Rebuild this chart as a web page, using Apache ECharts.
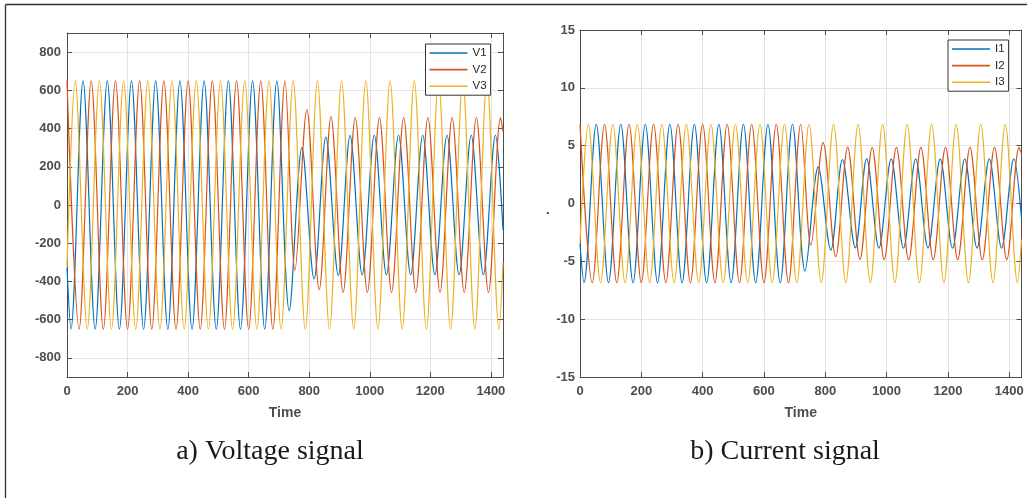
<!DOCTYPE html>
<html>
<head>
<meta charset="utf-8">
<script src="https://cdn.jsdelivr.net/npm/echarts@6/dist/echarts.min.js"></script>
<style>
  html, body { margin: 0; padding: 0; background: #ffffff; }
  #main { width: 1027px; height: 498px; }
</style>
</head>
<body>
<div id="main"></div>
<script>
// Three-phase voltage and current records: [time, value] at each crest and trough.
const V1 = [[0,-330],[13,-650],[53,650],[93,-650],[133,650],[173,-650],[213,650],[253,-650],[293,650],[333,-650],[373,650],[413,-650],[453,650],[493,-650],[533,650],[573,-650],[613,650],[653,-650],[693,650],[734,-553],[776,300],[816,-387],[855,355],[896,-368],[935,363],[975,-365],[1015,365],[1055,-365],[1095,365],[1135,-365],[1175,365],[1215,-365],[1255,365],[1295,-365],[1335,365],[1375,-365],[1415,365],[1440,-130]];
const V2 = [[0,650],[40,-650],[80,650],[120,-650],[160,650],[200,-650],[240,650],[280,-650],[320,650],[360,-650],[400,650],[440,-650],[480,650],[520,-650],[560,650],[600,-650],[640,650],[680,-650],[720,650],[753,-341],[792,499],[833,-443],[872,462],[912,-457],[952,457],[992,-457],[1032,457],[1072,-457],[1112,457],[1152,-457],[1192,457],[1232,-457],[1272,457],[1312,-457],[1352,457],[1392,-457],[1432,457],[1440,385]];
const V3 = [[0,-325],[27,650],[67,-650],[107,650],[147,-650],[187,650],[227,-650],[267,650],[307,-650],[347,650],[387,-650],[427,650],[467,-650],[507,650],[547,-650],[587,650],[627,-650],[667,650],[707,-650],[747,650],[787,-650],[827,650],[867,-650],[907,650],[947,-650],[987,650],[1027,-650],[1067,650],[1107,-650],[1147,650],[1187,-650],[1227,650],[1267,-650],[1307,650],[1347,-650],[1387,650],[1427,-650],[1440,-300]];

const I1 = [[0,-3.5],[13,-6.85],[53,6.85],[93,-6.85],[133,6.85],[173,-6.85],[213,6.85],[253,-6.85],[293,6.85],[333,-6.85],[373,6.85],[413,-6.85],[453,6.85],[493,-6.85],[533,6.85],[573,-6.85],[613,6.85],[653,-6.85],[693,6.85],[734,-5.84],[777,3.16],[818,-4.03],[856,3.79],[898,-3.83],[935,3.88],[975,-3.85],[1015,3.85],[1055,-3.85],[1095,3.85],[1135,-3.85],[1175,3.85],[1215,-3.85],[1255,3.85],[1295,-3.85],[1335,3.85],[1375,-3.85],[1415,3.85],[1440,-1.3]];
const I2 = [[0,6.85],[40,-6.85],[80,6.85],[120,-6.85],[160,6.85],[200,-6.85],[240,6.85],[280,-6.85],[320,6.85],[360,-6.85],[400,6.85],[440,-6.85],[480,6.85],[520,-6.85],[560,6.85],[600,-6.85],[640,6.85],[680,-6.85],[720,6.85],[753,-3.6],[793,5.26],[834,-4.6],[873,4.88],[913,-4.83],[953,4.83],[992,-4.85],[1032,4.85],[1072,-4.85],[1112,4.85],[1152,-4.85],[1192,4.85],[1232,-4.85],[1272,4.85],[1312,-4.85],[1352,4.85],[1392,-4.85],[1432,4.85],[1440,4.3]];
const I3 = [[0,-3.4],[27,6.85],[67,-6.85],[107,6.85],[147,-6.85],[187,6.85],[227,-6.85],[267,6.85],[307,-6.85],[347,6.85],[387,-6.85],[427,6.85],[467,-6.85],[507,6.85],[547,-6.85],[587,6.85],[627,-6.85],[667,6.85],[707,-6.85],[747,6.85],[787,-6.85],[827,6.85],[867,-6.85],[907,6.85],[947,-6.85],[987,6.85],[1027,-6.85],[1067,6.85],[1107,-6.85],[1147,6.85],[1187,-6.85],[1227,6.85],[1267,-6.85],[1307,6.85],[1347,-6.85],[1387,6.85],[1427,-6.85],[1440,-3.1]];

// Axis tick positions
const timeTicks = [0, 200, 400, 600, 800, 1000, 1200, 1400];
const voltTicks = [-800, -600, -400, -200, 0, 200, 400, 600, 800];
const currTicks = [-15, -10, -5, 0, 5, 10, 15];

const timeRange = [0, 1440];
const voltRange = [-900, 900];
const currRange = [-15, 15];

const phaseColors = ['#0072BD', '#D95319', '#EDB120'];
const voltNames = ['V1', 'V2', 'V3'];
const currNames = ['I1', 'I2', 'I3'];
const captions = ['a) Voltage signal', 'b) Current signal'];

const AXIS_COLOR = '#4d4d4d';
const GRID_COLOR = '#e3e3e3';
const LABEL_FONT = { color: '#4d4d4d', fontFamily: 'Liberation Sans', fontWeight: 'bold', fontSize: 13 };
const plain = v => String(v);

function axisBase(gridIndex, range, ticks) {
  return {
    type: 'value', gridIndex, min: range[0], max: range[1],
    axisLine: { show: true, onZero: false, lineStyle: { color: AXIS_COLOR, width: 1 } },
    axisTick: { show: true, inside: true, length: 5, customValues: ticks, lineStyle: { color: AXIS_COLOR } }
  };
}

function xAxisPair(gridIndex) {
  const base = axisBase(gridIndex, timeRange, timeTicks);
  return [
    Object.assign({}, base, {
      position: 'bottom',
      name: 'Time', nameLocation: 'middle', nameGap: 29,
      nameTextStyle: { color: '#4d4d4d', fontFamily: 'Liberation Sans', fontWeight: 'bold', fontSize: 14 },
      axisLabel: Object.assign({ margin: 8, customValues: timeTicks, formatter: plain }, LABEL_FONT),
      splitLine: { show: true, lineStyle: { color: GRID_COLOR, width: 1 } }
    }),
    Object.assign({}, base, {
      position: 'top',
      axisLabel: { show: false },
      splitLine: { show: false }
    })
  ];
}

function yAxisPair(gridIndex, range, ticks, margin) {
  const base = axisBase(gridIndex, range, ticks);
  return [
    Object.assign({}, base, {
      position: 'left',
      axisLabel: Object.assign({ margin, customValues: ticks, formatter: plain }, LABEL_FONT),
      splitLine: { show: true, lineStyle: { color: GRID_COLOR, width: 1 } }
    }),
    Object.assign({}, base, {
      position: 'right',
      axisLabel: { show: false },
      splitLine: { show: false }
    })
  ];
}

function phaseSeries(names, datasets, axisIndex) {
  return names.map((name, i) => ({
    name, type: 'line', data: datasets[i],
    xAxisIndex: axisIndex, yAxisIndex: axisIndex,
    symbol: 'none', smooth: 0.33, animation: false,
    lineStyle: { color: phaseColors[i], width: 1.2 },
    itemStyle: { color: phaseColors[i] }
  }));
}

function legendBox(names, left, top) {
  return {
    data: names.map(n => ({ name: n, icon: 'rect' })),
    orient: 'vertical', left, top,
    backgroundColor: '#ffffff', borderColor: '#333333', borderWidth: 1, borderRadius: 0,
    padding: [2, 4, 2, 4], itemWidth: 38, itemHeight: 1.6, itemGap: 2.6,
    selectedMode: false,
    textStyle: { color: '#262626', fontFamily: 'Liberation Sans', fontSize: 11.5, lineHeight: 14 }
  };
}

const chart = echarts.init(document.getElementById('main'), null, { renderer: 'canvas' });

chart.setOption({
  animation: false,
  backgroundColor: '#ffffff',
  grid: [
    { left: 67, top: 33, width: 436, height: 344, show: false },
    { left: 580, top: 30, width: 441.5, height: 347, show: false }
  ],
  xAxis: [].concat(xAxisPair(0), xAxisPair(1)),
  yAxis: [].concat(yAxisPair(0, voltRange, voltTicks, 6), yAxisPair(1, currRange, currTicks, 5)),
  legend: [legendBox(voltNames, 425.5, 44), legendBox(currNames, 948, 40)],
  series: [].concat(
    phaseSeries(voltNames, [V1, V2, V3], 0),
    phaseSeries(currNames, [I1, I2, I3], 2)
  ),
  graphic: [
    { type: 'line', shape: { x1: 5.5, y1: 4.5, x2: 1027, y2: 4.5 }, style: { stroke: '#333333', lineWidth: 1.3 } },
    { type: 'line', shape: { x1: 5.5, y1: 4.5, x2: 5.5, y2: 498 }, style: { stroke: '#333333', lineWidth: 1.3 } },
    { type: 'text', left: 546, top: 204, style: { text: '.', fill: '#333333', font: 'bold 13px "Liberation Sans"' } },
    { type: 'text', x: 270, y: 452, style: { text: captions[0], fill: '#1a1a1a', font: '28px "Liberation Serif"', align: 'center', verticalAlign: 'middle' } },
    { type: 'text', x: 785, y: 452, style: { text: captions[1], fill: '#1a1a1a', font: '28px "Liberation Serif"', align: 'center', verticalAlign: 'middle' } }
  ]
});
</script>
</body>
</html>
